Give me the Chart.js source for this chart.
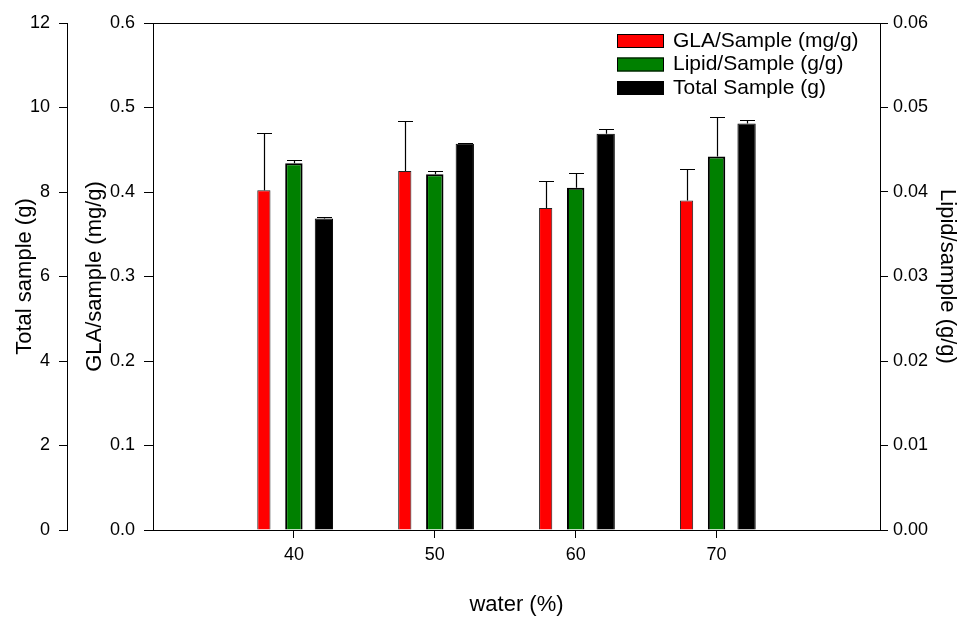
<!DOCTYPE html>
<html>
<head>
<meta charset="utf-8">
<script src="https://cdn.jsdelivr.net/npm/chart.js@4.4.1/dist/chart.umd.min.js"></script>
<style>
  html, body { margin: 0; padding: 0; background: #fff; }
  #wrap { width: 960px; height: 619px; }
</style>
</head>
<body>
<div id="wrap"><canvas id="waterChart" width="960" height="619"></canvas></div>
<script>
// values
const waterLevels = [40, 50, 60, 70];
const glaValues = [0.402, 0.425, 0.381, 0.390];
const glaErrors = [0.068, 0.059, 0.032, 0.037];
const lipidValues = [0.0434, 0.0421, 0.0405, 0.0442];
const lipidErrors = [0.0004, 0.0004, 0.0017, 0.0047];
const totalValues = [7.37, 9.14, 9.38, 9.62];
const totalErrors = [0.04, 0.02, 0.12, 0.08];

const FONT = "'Liberation Sans', Arial, sans-serif";
Chart.defaults.font.family = FONT;
Chart.defaults.font.size = 18;
Chart.defaults.color = "#000";

const toPoints = vals => waterLevels.map((w, i) => ({ x: w, y: vals[i] }));

// error bars (upper side only, with a cap)
const errorBars = {
    id: "errorBars",
    afterDatasetsDraw(chart) {
        const ctx = chart.ctx;
        chart.data.datasets.forEach((ds, i) => {
            const meta = chart.getDatasetMeta(i);
            const yScale = chart.scales[ds.yAxisID];
            meta.data.forEach((bar, j) => {
                const top = Math.round(yScale.getPixelForValue(ds.data[j].y + ds.errors[j])) + 0.5;
                const x = Math.round(bar.x) + 0.5;
                ctx.save();
                ctx.strokeStyle = "#000";
                ctx.lineWidth = 1.2;
                ctx.beginPath();
                ctx.moveTo(x, bar.y);
                ctx.lineTo(x, top);
                ctx.moveTo(x - 7.5, top);
                ctx.lineTo(x + 7.5, top);
                ctx.stroke();
                ctx.restore();
            });
        });
    }
};

// legend drawn inside the plot, top right
const boxLegend = {
    id: "boxLegend",
    afterDraw(chart) {
        const { ctx, chartArea } = chart;
        const x0 = chartArea.right - 263;
        chart.data.datasets.forEach((ds, i) => {
            const yc = chartArea.top + 18 + i * 23.5;
            ctx.save();
            ctx.fillStyle = ds.backgroundColor;
            ctx.fillRect(x0, yc - 7, 47, 14);
            ctx.strokeStyle = "#000";
            ctx.lineWidth = 1;
            ctx.strokeRect(x0 + 0.5, yc - 6.5, 46, 13);
            ctx.fillStyle = "#000";
            ctx.font = "21px " + FONT;
            ctx.textBaseline = "middle";
            ctx.fillText(ds.label, x0 + 56, yc);
            ctx.restore();
        });
    }
};

const axisTitle = (text, pad) => ({
    display: true,
    text: text,
    color: "#000",
    font: { size: 22 },
    padding: pad
});

new Chart(document.getElementById("waterChart"), {
    type: "bar",
    data: {
        datasets: [
            {
                label: "GLA/Sample (mg/g)",
                data: toPoints(glaValues),
                errors: glaErrors,
                yAxisID: "yGLA",
                backgroundColor: "#ff0000",
                borderColor: "#222",
                borderWidth: 1,
                categoryPercentage: 0.639,
                barPercentage: 0.44
            },
            {
                label: "Lipid/Sample (g/g)",
                data: toPoints(lipidValues),
                errors: lipidErrors,
                yAxisID: "yLipid",
                backgroundColor: "#008000",
                borderColor: "#000",
                borderWidth: 2,
                categoryPercentage: 0.639,
                barPercentage: 0.58
            },
            {
                label: "Total Sample (g)",
                data: toPoints(totalValues),
                errors: totalErrors,
                yAxisID: "yTotal",
                backgroundColor: "#000000",
                borderColor: "#000",
                borderWidth: 1,
                categoryPercentage: 0.639,
                barPercentage: 0.61
            }
        ]
    },
    options: {
        responsive: false,
        animation: false,
        layout: { padding: { top: 23, left: 0, right: 0, bottom: 0 } },
        plugins: {
            legend: { display: false },
            tooltip: { enabled: false }
        },
        scales: {
            x: {
                type: "linear",
                position: "bottom",
                min: 30,
                max: 81.6,
                offset: false,
                afterBuildTicks: s => { s.ticks = waterLevels.map(v => ({ value: v })); },
                grid: { offset: false, drawOnChartArea: false, drawTicks: true, tickLength: 8, tickColor: "#000" },
                border: { color: "#000", width: 1 },
                ticks: { padding: 6, maxRotation: 0, callback: v => String(v) },
                title: axisTitle("water (%)", { top: 0, bottom: 1 }),
                afterFit: s => { s.height = 89; }
            },
            xTop: {
                type: "linear",
                position: "top",
                grid: { drawOnChartArea: false, drawTicks: false },
                border: { color: "#000", width: 1 },
                ticks: { display: false },
                afterFit: s => { s.height = 0; }
            },
            yTotal: {
                position: "left",
                weight: 2,
                min: 0,
                max: 12,
                grid: { drawOnChartArea: false, tickLength: 8, tickColor: "#000" },
                border: { color: "#000", width: 1 },
                ticks: { stepSize: 2, padding: 9 },
                title: axisTitle("Total sample (g)", { top: 12, bottom: 0 }),
                afterFit: s => { s.width = 67; }
            },
            yGLA: {
                position: "left",
                weight: 1,
                min: 0,
                max: 0.6,
                grid: { drawOnChartArea: false, tickLength: 9, tickColor: "#000" },
                border: { color: "#000", width: 1 },
                ticks: { stepSize: 0.1, padding: 9, callback: v => v.toFixed(1) },
                title: axisTitle("GLA/sample (mg/g)", { top: 15, bottom: 0 }),
                afterFit: s => { s.width = 86; }
            },
            yLipid: {
                position: "right",
                min: 0,
                max: 0.06,
                grid: { drawOnChartArea: false, tickLength: 8, tickColor: "#000" },
                border: { color: "#000", width: 1 },
                ticks: { stepSize: 0.01, padding: 5, callback: v => v.toFixed(2) },
                title: axisTitle("Lipid/sample (g/g)", { top: 0, bottom: 0 }),
                afterFit: s => { s.width = 80; }
            }
        }
    },
    plugins: [errorBars, boxLegend]
});
</script>
</body>
</html>
